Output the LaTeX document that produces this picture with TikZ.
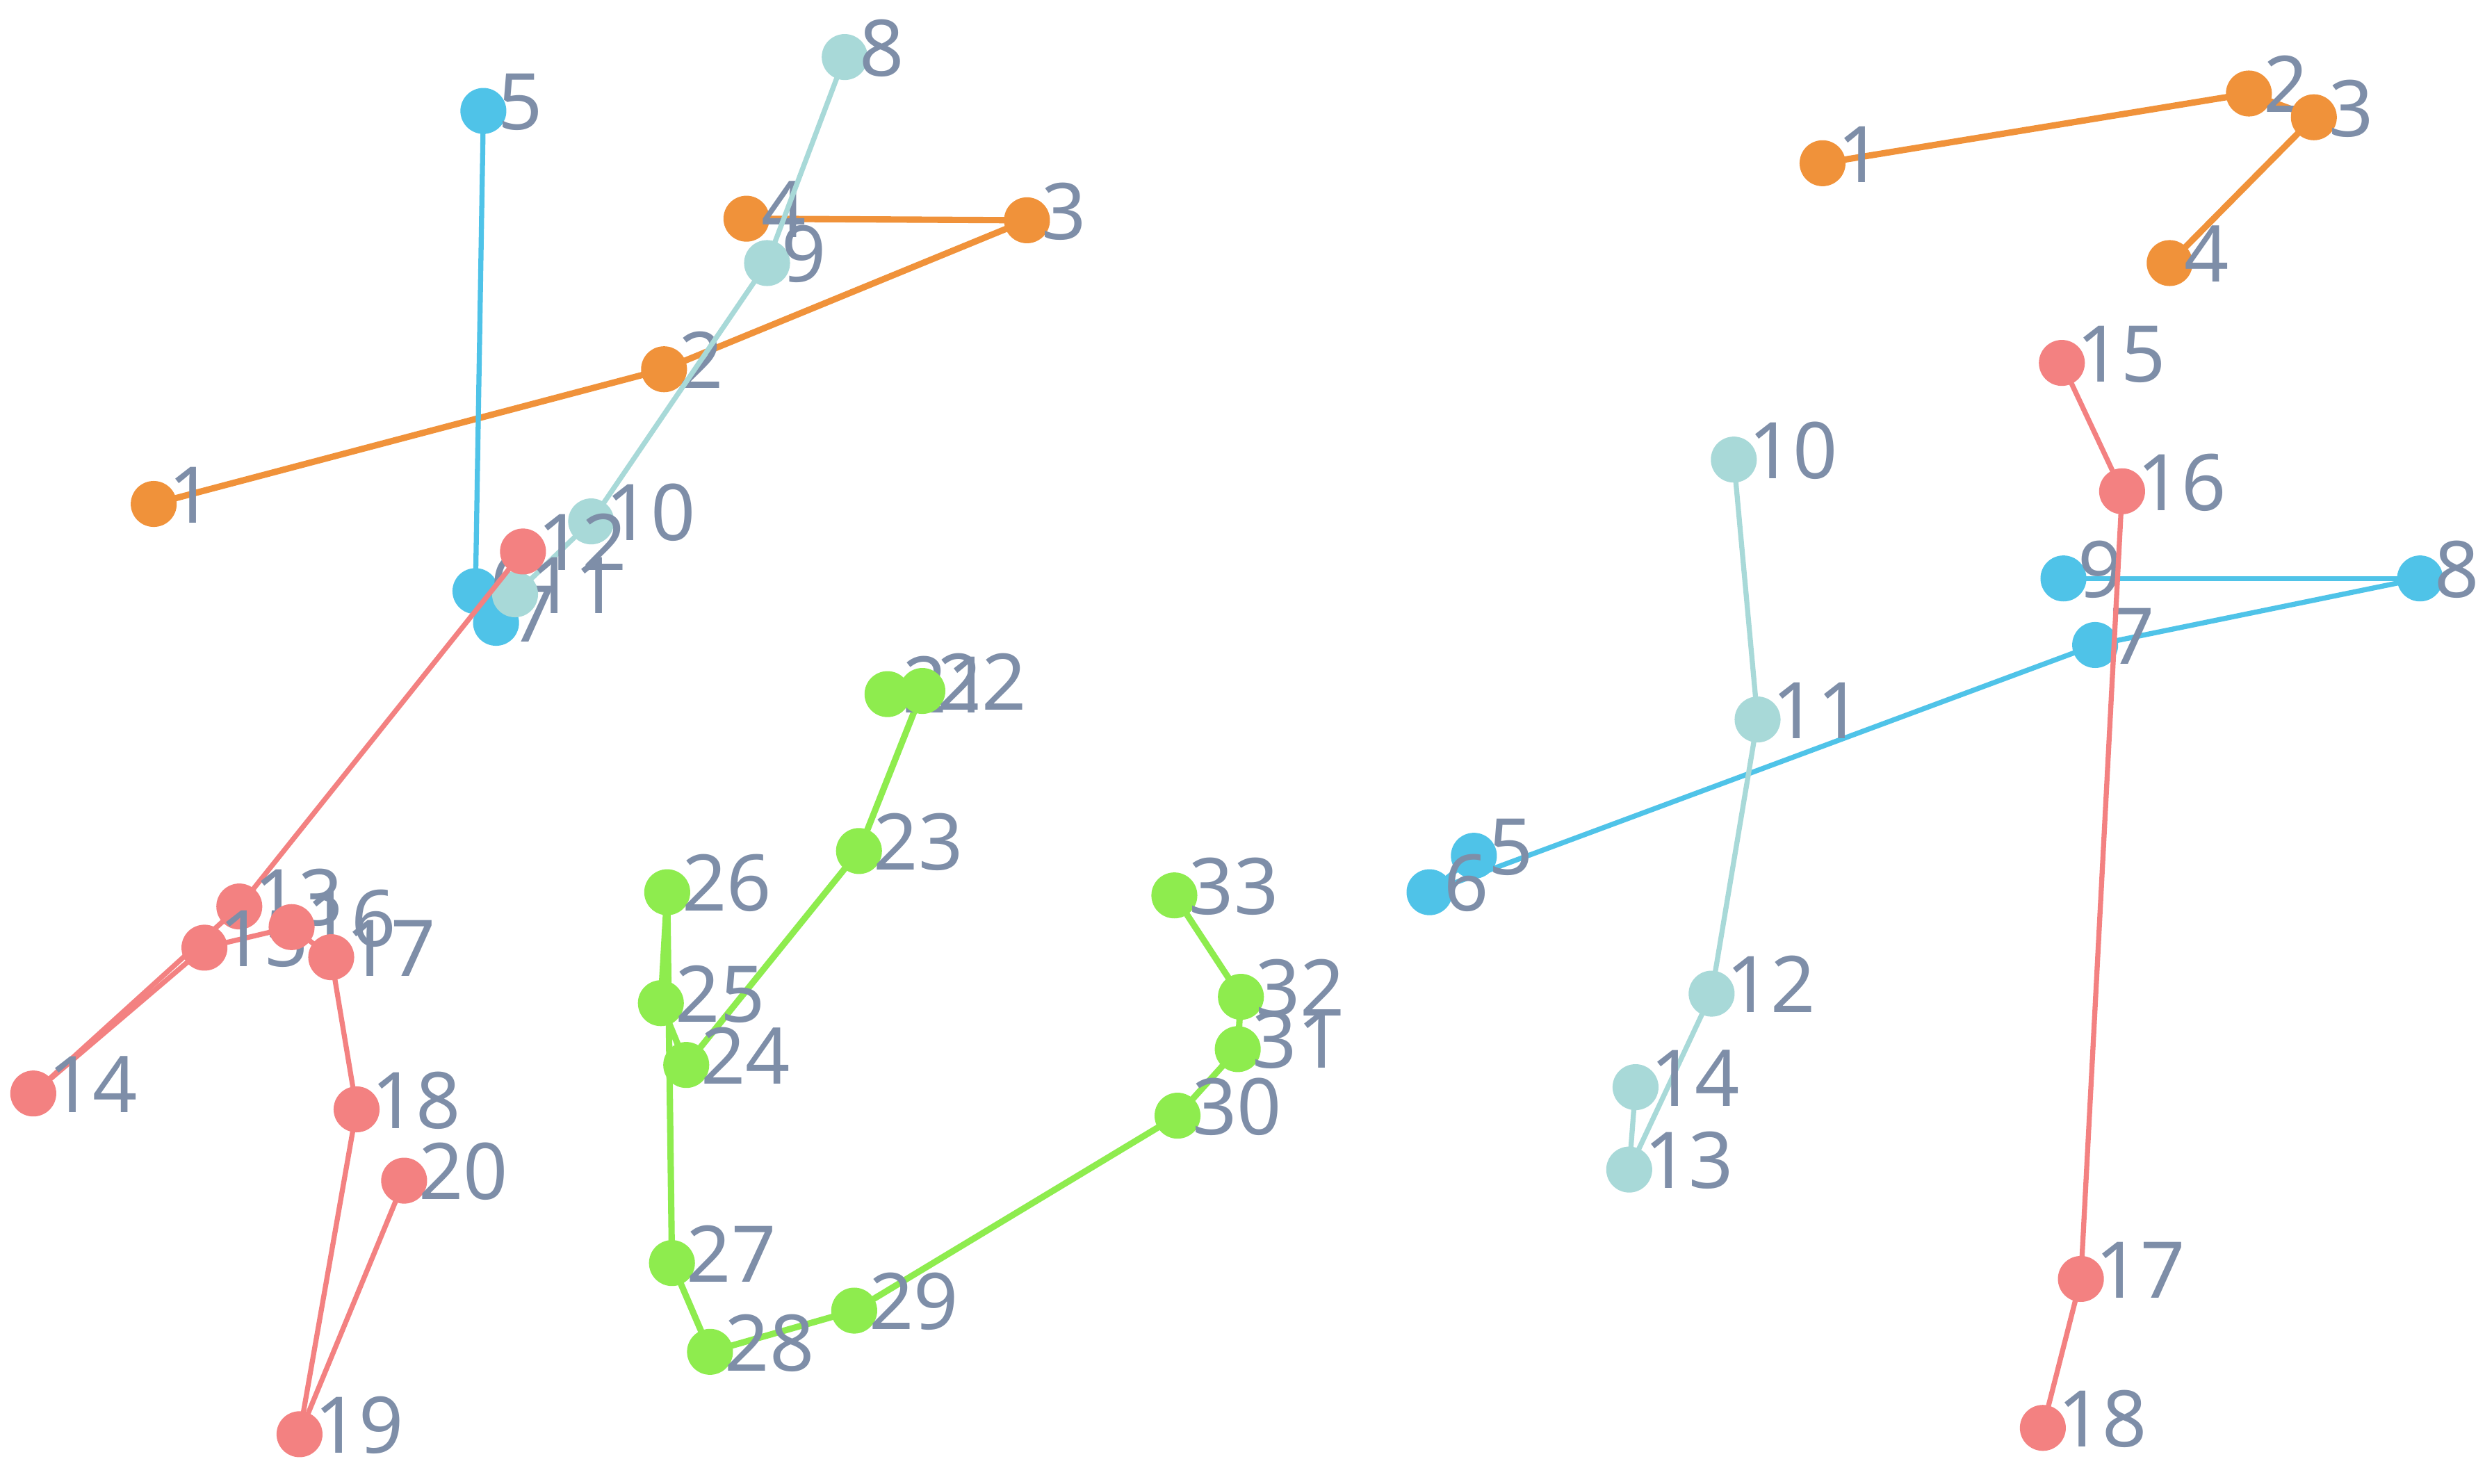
\documentclass[tikz,border=0pt]{standalone}
\usepackage{fontspec}
\setmainfont{Noto Sans}
\definecolor{corange}{HTML}{F0923A}
\definecolor{cblue}{HTML}{4FC3E8}
\definecolor{cteal}{HTML}{A8D9D8}
\definecolor{cred}{HTML}{F38181}
\definecolor{cgreen}{HTML}{8EEC4E}
\definecolor{clabel}{HTML}{7E8EA8}
\newcommand{\pgfunit}{*0.0228cm}
\tikzset{
  dotnode/.style={circle,fill=#1,draw=none,minimum size=29\pgfunit,inner sep=0pt},
  lbl/.style={anchor=base west,inner sep=0pt,text=clabel,font=\fontsize{32}{32}\selectfont},
  edge/.style={draw=#1,line width=4\pgfunit,line cap=round},
  thinedge/.style={draw=#1,line width=3.2\pgfunit,line cap=round},
}
\begin{document}
\begin{tikzpicture}[x=0.0228cm,y=-0.0228cm]
\useasboundingbox (0,0) rectangle (1568,936);
% ---------- left figure ----------
\coordinate (La1) at (97,318);
\coordinate (La2) at (419,233);
\coordinate (La3) at (648,139);
\coordinate (La4) at (471,138);
\coordinate (La5) at (305,70);
\coordinate (La6) at (300,373);
\coordinate (La7) at (313,393);
\coordinate (La8) at (533,36);
\coordinate (La9) at (484,166);
\coordinate (La10) at (373,329);
\coordinate (La11) at (325,375);
\coordinate (La12) at (330,348);
\coordinate (La13) at (151,572);
\coordinate (La14) at (21,690);
\coordinate (La15) at (129,598);
\coordinate (La16) at (184,585);
\coordinate (La17) at (209,604);
\coordinate (La18) at (225,700);
\coordinate (La19) at (189,905);
\coordinate (La20) at (255,745);
\coordinate (La21) at (560,438);
\coordinate (La22) at (582,436);
\coordinate (La23) at (542,537);
\coordinate (La24) at (433,672);
\coordinate (La25) at (417,633);
\coordinate (La26) at (421,563);
\coordinate (La27) at (424,797);
\coordinate (La28) at (448,853);
\coordinate (La29) at (539,827);
\coordinate (La30) at (743,704);
\coordinate (La31) at (781,662);
\coordinate (La32) at (783,629);
\coordinate (La33) at (741,565);
% ---------- right figure ----------
\coordinate (Rb1) at (1150,103);
\coordinate (Rb2) at (1419,59);
\coordinate (Rb3) at (1460,74);
\coordinate (Rb4) at (1369,166);
\coordinate (Rb5) at (930,540);
\coordinate (Rb6) at (902,563);
\coordinate (Rb7) at (1322,407);
\coordinate (Rb8) at (1527,365);
\coordinate (Rb9) at (1302,365);
\coordinate (Rb10) at (1094,290);
\coordinate (Rb11) at (1109,454);
\coordinate (Rb12) at (1080,627);
\coordinate (Rb13) at (1028,738);
\coordinate (Rb14) at (1032,686);
\coordinate (Rb15) at (1301,229);
\coordinate (Rb16) at (1339,310);
\coordinate (Rb17) at (1313,807);
\coordinate (Rb18) at (1289,901);

% ===== left: orange =====
\foreach \a/\b in {La1/La2,La2/La3,La3/La4} \draw[edge=corange] (\a) -- (\b);
\foreach \n/\t in {La1/1,La2/2,La3/3,La4/4} {
  \node[dotnode=corange] (d\n) at (\n) {};
  \node[lbl] (t\n) at ([shift={(9,12)}]\n) {\t};}
% ===== left: blue =====
\foreach \a/\b in {La5/La6,La6/La7} \draw[thinedge=cblue] (\a) -- (\b);
\foreach \n/\t in {La5/5,La6/6,La7/7} {
  \node[dotnode=cblue] (d\n) at (\n) {};
  \node[lbl] (t\n) at ([shift={(9,12)}]\n) {\t};}
% ===== left: teal =====
\foreach \a/\b in {La8/La9,La9/La10,La10/La11} \draw[thinedge=cteal] (\a) -- (\b);
\foreach \n/\t in {La8/8,La9/9,La10/10,La11/11} {
  \node[dotnode=cteal] (d\n) at (\n) {};
  \node[lbl] (t\n) at ([shift={(9,12)}]\n) {\t};}
% ===== left: red =====
\foreach \a/\b in {La12/La13,La13/La14,La14/La15,La15/La16,La16/La17,La17/La18,La18/La19,La19/La20} \draw[thinedge=cred] (\a) -- (\b);
\foreach \n/\t in {La12/12,La13/13,La14/14,La15/15,La16/16,La17/17,La18/18,La19/19,La20/20} {
  \node[dotnode=cred] (d\n) at (\n) {};
  \node[lbl] (t\n) at ([shift={(9,12)}]\n) {\t};}
% ===== left: green =====
\foreach \a/\b in {La21/La22,La22/La23,La23/La24,La24/La25,La25/La26,La26/La27,La27/La28,La28/La29,La29/La30,La30/La31,La31/La32,La32/La33} \draw[edge=cgreen] (\a) -- (\b);
\foreach \n/\t in {La21/21,La22/22,La23/23,La24/24,La25/25,La26/26,La27/27,La28/28,La29/29,La30/30,La31/31,La32/32,La33/33} {
  \node[dotnode=cgreen] (d\n) at (\n) {};
  \node[lbl] (t\n) at ([shift={(9,12)}]\n) {\t};}

% ===== right: orange =====
\foreach \a/\b in {Rb1/Rb2,Rb2/Rb3,Rb3/Rb4} \draw[edge=corange] (\a) -- (\b);
\foreach \n/\t in {Rb1/1,Rb2/2,Rb3/3,Rb4/4} {
  \node[dotnode=corange] (d\n) at (\n) {};
  \node[lbl] (t\n) at ([shift={(9,12)}]\n) {\t};}
% ===== right: blue =====
\foreach \a/\b in {Rb5/Rb6,Rb6/Rb7,Rb7/Rb8,Rb8/Rb9} \draw[thinedge=cblue] (\a) -- (\b);
\foreach \n/\t in {Rb5/5,Rb6/6,Rb7/7,Rb8/8,Rb9/9} {
  \node[dotnode=cblue] (d\n) at (\n) {};
  \node[lbl] (t\n) at ([shift={(9,12)}]\n) {\t};}
% ===== right: teal =====
\foreach \a/\b in {Rb10/Rb11,Rb11/Rb12,Rb12/Rb13,Rb13/Rb14} \draw[thinedge=cteal] (\a) -- (\b);
\foreach \n/\t in {Rb10/10,Rb11/11,Rb12/12,Rb13/13,Rb14/14} {
  \node[dotnode=cteal] (d\n) at (\n) {};
  \node[lbl] (t\n) at ([shift={(9,12)}]\n) {\t};}
% ===== right: red =====
\foreach \a/\b in {Rb15/Rb16,Rb16/Rb17,Rb17/Rb18} \draw[thinedge=cred] (\a) -- (\b);
\foreach \n/\t in {Rb15/15,Rb16/16,Rb17/17,Rb18/18} {
  \node[dotnode=cred] (d\n) at (\n) {};
  \node[lbl] (t\n) at ([shift={(9,12)}]\n) {\t};}
\end{tikzpicture}
\end{document}
